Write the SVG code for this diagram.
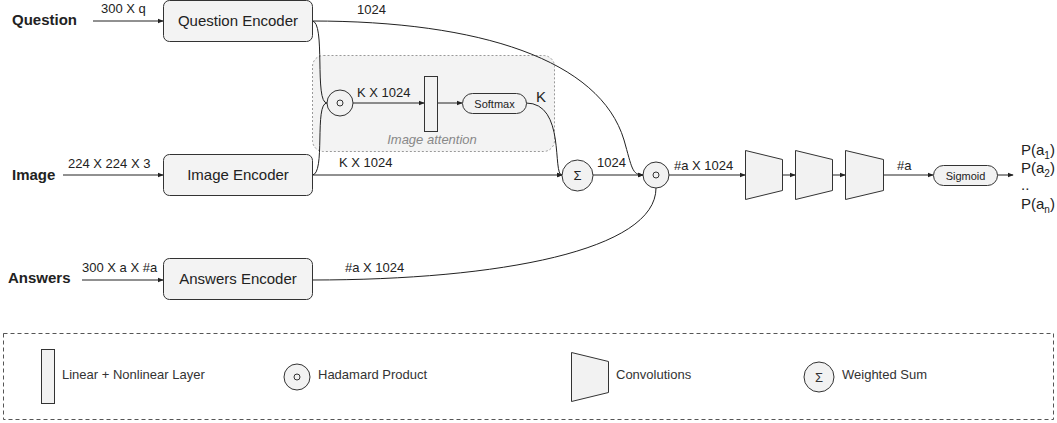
<svg xmlns="http://www.w3.org/2000/svg" width="1057" height="423" viewBox="0 0 1057 423">
<style>
text{font-family:"Liberation Sans",Arial,sans-serif;fill:#222}
.lbl{font-size:15px;font-weight:bold}
.dim{font-size:13px}
.enc{font-size:15px;text-anchor:middle}
.sm{font-size:11px;text-anchor:middle}
.lg{font-size:13px;fill:#333}
.box{fill:#f3f3f3;stroke:#333;stroke-width:1}
.shape{fill:#f2f2f2;stroke:#333;stroke-width:1}
.ln{fill:none;stroke:#222;stroke-width:1}
.arr{marker-end:url(#ah)}
</style>
<defs>
<marker id="ah" viewBox="0 0 8 8" refX="7" refY="4" markerWidth="6" markerHeight="6" markerUnits="userSpaceOnUse" orient="auto">
<path d="M0,1 L8,4 L0,7 Z" fill="#222"/>
</marker>
</defs>

<g id="attention-region">
<rect x="312.5" y="55.5" width="242" height="96" rx="11" fill="#f3f3f3" stroke="#999" stroke-width="1" stroke-dasharray="2 2"/>
<text x="432" y="144" style="font-size:13px;font-style:italic;fill:#888;text-anchor:middle">Image attention</text>
</g>

<g id="inputs">
<text class="lbl" x="12" y="25">Question</text>
<text class="lbl" x="12" y="180">Image</text>
<text class="lbl" x="8" y="283">Answers</text>
</g>

<g id="connectors">
<path class="ln arr" d="M93,21 L163,21"/>
<path class="ln arr" d="M63,175 L163,175"/>
<path class="ln arr" d="M82,280 L163,280"/>
<path class="ln" d="M312,21 C326,21 314,103 327,103"/>
<path class="ln" d="M312,175 C326,175 314,103 327,103"/>
<path class="ln arr" d="M353,103 L424,103"/>
<path class="ln arr" d="M437,103 L462,103"/>
<path class="ln arr" d="M526,103 C566,103 552,175 562,175"/>
<path class="ln arr" d="M312,175 L562,175"/>
<path class="ln arr" d="M593,175 L643,175"/>
<path class="ln arr" d="M312,21 C480,21 600,60 624,140 C632,168 632,175 643,175"/>
<path class="ln" d="M312,280 C500,280 656,250 656,188"/>
<path class="ln arr" d="M669,175 L745,175"/>
<path class="ln arr" d="M782,175 L795,175"/>
<path class="ln arr" d="M832,175 L845,175"/>
<path class="ln arr" d="M883,175 L933,175"/>
<path class="ln arr" d="M997,175 L1013,175"/>
<text class="dim" x="101" y="13">300 X q</text>
<text class="dim" x="68" y="168">224 X 224 X 3</text>
<text class="dim" x="82" y="272">300 X a X #a</text>
<text class="dim" x="357" y="14">1024</text>
<text class="dim" x="357" y="97">K X 1024</text>
<text style="font-size:15px" x="536" y="102">K</text>
<text class="dim" x="339" y="167">K X 1024</text>
<text class="dim" x="597" y="167">1024</text>
<text class="dim" x="345" y="272">#a X 1024</text>
<text class="dim" x="674" y="170">#a X 1024</text>
<text class="dim" x="897" y="170">#a</text>
</g>

<g id="question-encoder">
<rect class="box" x="163.5" y="0.5" width="149" height="41" rx="6"/>
<text class="enc" x="238" y="26">Question Encoder</text>
</g>
<g id="image-encoder">
<rect class="box" x="163.5" y="154.5" width="149" height="41" rx="6"/>
<text class="enc" x="238" y="180">Image Encoder</text>
</g>
<g id="answers-encoder">
<rect class="box" x="163.5" y="258.5" width="149" height="41" rx="6"/>
<text class="enc" x="238" y="284">Answers Encoder</text>
</g>

<g id="att-hadamard">
<circle class="shape" cx="340" cy="103" r="13"/>
<circle cx="340" cy="103" r="3" fill="none" stroke="#333"/>
</g>
<g id="att-linear">
<rect class="shape" x="424.5" y="76.5" width="13" height="55"/>
</g>
<g id="softmax">
<rect class="shape" x="462.5" y="93.5" width="64" height="20" rx="10"/>
<text class="sm" x="494.5" y="107.5">Softmax</text>
</g>
<g id="weighted-sum">
<circle class="shape" cx="577.5" cy="175.5" r="15.5"/>
<text x="577.5" y="180" style="font-size:13px;text-anchor:middle">Σ</text>
</g>
<g id="hadamard">
<circle class="shape" cx="656" cy="175" r="13"/>
<circle cx="656" cy="175" r="3" fill="none" stroke="#333"/>
</g>
<g id="conv1"><polygon class="shape" points="745.5,150.5 782.5,159.5 782.5,190.5 745.5,199.5"/></g>
<g id="conv2"><polygon class="shape" points="795.5,150.5 832.5,159.5 832.5,190.5 795.5,199.5"/></g>
<g id="conv3"><polygon class="shape" points="845.5,150.5 883.5,159.5 883.5,190.5 845.5,199.5"/></g>
<g id="sigmoid">
<rect class="shape" x="933.5" y="165.5" width="64" height="20" rx="10"/>
<text class="sm" x="965.5" y="179.5">Sigmoid</text>
</g>
<g id="outputs">
<text style="font-size:15px" x="1021" y="155">P(a<tspan font-size="10" dy="4">1</tspan><tspan dy="-4">)</tspan></text>
<text style="font-size:15px" x="1021" y="173">P(a<tspan font-size="10" dy="4">2</tspan><tspan dy="-4">)</tspan></text>
<text style="font-size:15px" x="1021" y="190">..</text>
<text style="font-size:15px" x="1021" y="209">P(a<tspan font-size="10" dy="4">n</tspan><tspan dy="-4">)</tspan></text>
</g>

<g id="legend">
<rect x="3.5" y="333.5" width="1050" height="86" fill="none" stroke="#555" stroke-width="1" stroke-dasharray="4 3"/>
<rect class="shape" x="41.5" y="349.5" width="13" height="54"/>
<text class="lg" x="62" y="379">Linear + Nonlinear Layer</text>
<circle class="shape" cx="297" cy="377" r="13"/>
<circle cx="297" cy="377" r="3" fill="none" stroke="#333"/>
<text class="lg" x="318" y="379">Hadamard Product</text>
<polygon class="shape" points="571.5,352.5 608.5,361.5 608.5,392.5 571.5,401.5"/>
<text class="lg" x="616" y="379">Convolutions</text>
<circle class="shape" cx="819" cy="377" r="15"/>
<text x="819" y="382" style="font-size:13px;text-anchor:middle;fill:#333">Σ</text>
<text class="lg" x="842" y="379">Weighted Sum</text>
</g>
</svg>
